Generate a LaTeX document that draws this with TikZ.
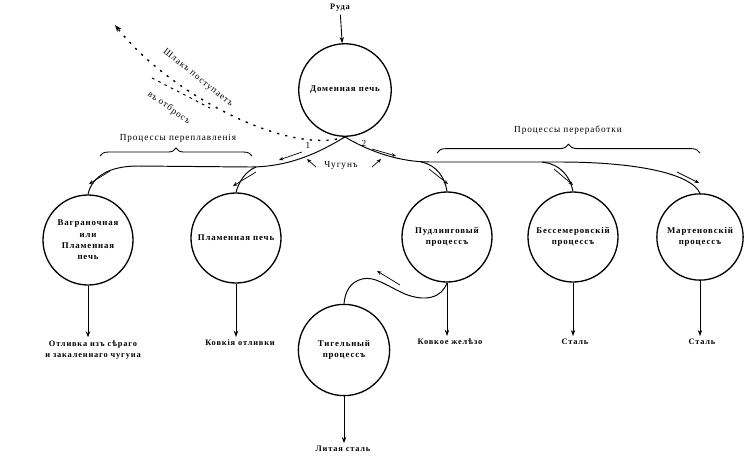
\documentclass[tikz,border=0pt]{standalone}
\usepackage{fontspec}
\setmainfont{Liberation Serif}
\newfontfamily\oldfont[LetterSpace=10]{Liberation Serif}
\usetikzlibrary{arrows.meta,decorations.pathreplacing}

\begin{document}
\begin{tikzpicture}[x=0.04cm,y=-0.04cm,
    furnace/.style={circle,draw,line width=1.5pt,minimum size=3.6cm,inner sep=1pt,align=center,
        font=\oldfont\fontsize{10}{13}\selectfont\bfseries},
    product/.style={align=center,font=\oldfont\fontsize{9.5}{13}\selectfont\bfseries},
    heading/.style={font=\oldfont\fontsize{10.5}{11}\selectfont},
    feed/.style={line width=1.1pt},
    outflow/.style={line width=1pt,-{Stealth[length=7pt,width=5pt]}},
    sidearrow/.style={line width=0.8pt,-{Stealth[length=5pt,width=4pt]}},
    slag/.style={line width=1.6pt,dash pattern=on 2.5pt off 7pt}]

\useasboundingbox (0,0) rectangle (751,458);

% печи
\node[furnace,minimum size=3.7cm] (blast) at (345,90) {Доменная печь};
\node[product] (ore) at (340,8) {Руда};
\node[furnace] (cupola) at (88,240) {Ваграночная\\или\\Пламенная\\печь};
\node[furnace] (reverb) at (236,238) {Пламенная печь};
\node[furnace] (puddl) at (447,237) {Пудлинговый\\процессъ};
\node[furnace] (bess) at (573,237) {Бессемеровскій\\процессъ};
\node[furnace,minimum size=3.45cm] (mart) at (700,237) {Мартеновскій\\процессъ};
\node[furnace,minimum size=3.65cm] (crucible) at (344,350) {Тигельный\\процессъ};

% продукты
\node[product] (castA) at (93,350) {Отливка изъ сѣраго\\и закаленнаго чугуна};
\node[product] (castB) at (240,343) {Ковкія отливки};
\node[product] (wrought) at (450,342) {Ковкое желѣзо};
\node[product] (steelA) at (575,342) {Сталь};
\node[product] (steelB) at (702,342) {Сталь};
\node[product] (caststeel) at (343,449) {Литая сталь};

\draw[outflow] (ore) -- (blast);
\draw[outflow] (cupola) -- (cupola |- castA.north);
\draw[outflow] (reverb) -- (reverb |- castB.north);
\draw[outflow] (puddl) -- (puddl |- wrought.north);
\draw[outflow] (bess) -- (bess |- steelA.north);
\draw[outflow] (mart) -- (mart |- steelB.north);
\draw[outflow] (crucible) -- (crucible |- caststeel.north);

% чугунъ
\path[coordinate] (blast.south) coordinate(split)
    (250,167) coordinate(L1) (256,167) coordinate(L3) (138,166) coordinate(L2)
    (430,162) coordinate(R1) (421,162) coordinate(R3) (542,162) coordinate(R4)
    (560,162) coordinate(R2);
\draw[feed] (split) .. controls (320,152) and (290,167) .. (L1) -- (L2)
    .. controls (110,166) and (92,176) .. (cupola.north);
\draw[feed] (L3) .. controls (246,171) and (239,181) .. (reverb.north);
\draw[feed] (split) .. controls (370,152) and (400,162) .. (R1) -- (R2)
    .. controls (630,162) and (690,172) .. (mart.north);
\draw[feed] (R3) .. controls (437,165) and (445,178) .. (puddl.north);
\draw[feed] (R4) .. controls (560,164) and (570,176) .. (bess.north);

\node[heading] (one) at (308,145) {1};
\node[heading] (two) at (364,143) {2};
\node[heading] (iron) at (341,165) {Чугунъ};
\draw[sidearrow] (302,152) -- (279,160);
\draw[sidearrow] (372,149) -- (396,156);
\draw[sidearrow] (316,167) -- (307,159);
\draw[sidearrow] (372,167) -- (381,159);
\draw[sidearrow] (110,171) -- (89,184);
\draw[sidearrow] (256,172) -- (233,186);
\draw[sidearrow] (429,169) -- (448,184);
\draw[sidearrow] (554,169) -- (573,185);
\draw[sidearrow] (677,172) -- (699,183);

% шлакъ
\draw[slag,-{Stealth[length=8pt,width=6pt]}] (split) .. controls (290,156) and (170,95) .. (115,25);
\draw[slag,line width=1.1pt,dash pattern=on 3pt off 5pt] (152,78) -- (210,108);
\node[heading,rotate=-39] (slagtxt) at (198,78) {Шлакъ поступаетъ};
\node[heading,rotate=-36] (wastetxt) at (169,108) {въ отбросъ};

% скобки
\node[heading] (remelt) at (178,138) {Процессы переплавленія};
\node[heading] (convert) at (568,130) {Процессы переработки};
\draw[line width=1pt,decorate,decoration={brace,amplitude=9pt}] (100,156) -- (252,156);
\draw[line width=1pt,decorate,decoration={brace,amplitude=10pt}] (437,153) -- (700,153);

% тигель
\draw[feed] (puddl.south) .. controls (442,298) and (425,302) .. (405,294)
    .. controls (385,285) and (375,276) .. (362,279)
    .. controls (350,282) and (345,292) .. (crucible.north);
\draw[sidearrow] (400,285) -- (377,271);

\end{tikzpicture}
\end{document}
